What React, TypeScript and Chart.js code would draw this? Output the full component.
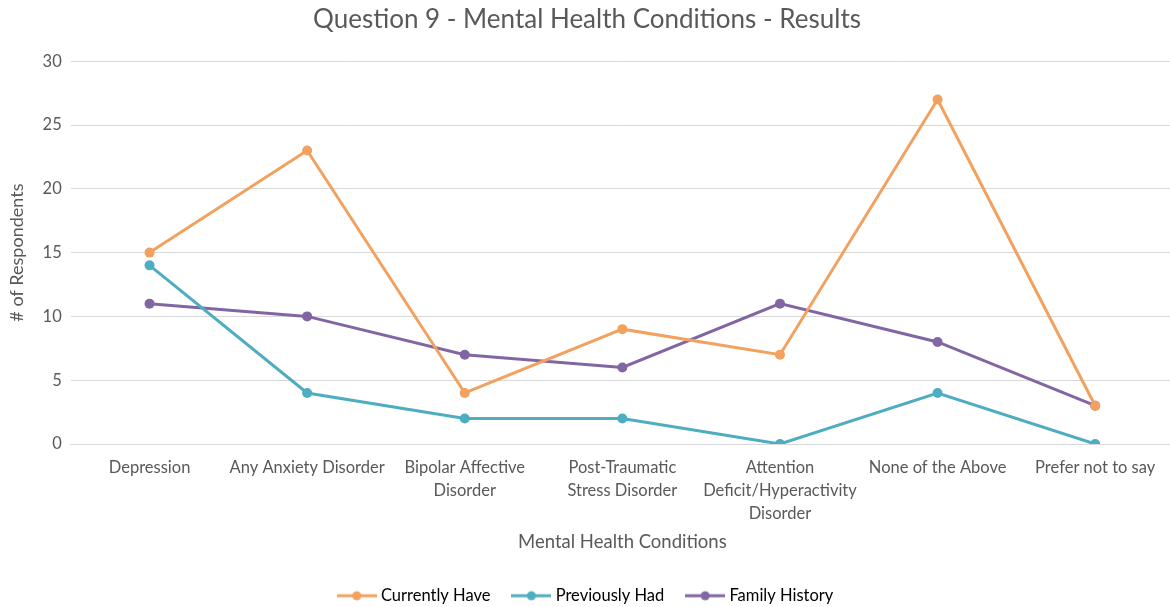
import React, { useEffect, useRef } from "react";
import { Chart, registerables } from "chart.js";

Chart.register(...registerables);

const categories: (string | string[])[] = [
  "Depression",
  "Any Anxiety Disorder",
  ["Bipolar Affective", "Disorder"],
  ["Post-Traumatic", "Stress Disorder"],
  ["Attention", "Deficit/Hyperactivity", "Disorder"],
  "None of the Above",
  "Prefer not to say",
];

const currentlyHave = [15, 23, 4, 9, 7, 27, 3];
const previouslyHad = [14, 4, 2, 2, 0, 4, 0];
const familyHistory = [11, 10, 7, 6, 11, 8, 3];

const seriesNames = ["Currently Have", "Previously Had", "Family History"];
const seriesColors = ["#F2A15E", "#4FADC2", "#8266A3"];

const FONT = "Lato, 'Open Sans', sans-serif";
const GREY = "#595959";

function makeLegendIcon(color: string): HTMLCanvasElement {
  const c = document.createElement("canvas");
  c.width = 40;
  c.height = 12;
  const ctx = c.getContext("2d")!;
  ctx.strokeStyle = color;
  ctx.lineWidth = 3;
  ctx.beginPath();
  ctx.moveTo(0, 6);
  ctx.lineTo(40, 6);
  ctx.stroke();
  ctx.fillStyle = color;
  ctx.beginPath();
  ctx.arc(20, 6, 4.5, 0, Math.PI * 2);
  ctx.fill();
  return c;
}

export default function App() {
  const ref = useRef<HTMLCanvasElement>(null);

  useEffect(() => {
    document.body.style.margin = "0";
    const icons = seriesColors.map(makeLegendIcon);
    const data = [currentlyHave, previouslyHad, familyHistory];
    const chart = new Chart(ref.current!, {
      type: "line",
      data: {
        labels: categories,
        datasets: seriesNames.map((name, i) => ({
          label: name,
          data: data[i],
          borderColor: seriesColors[i],
          backgroundColor: seriesColors[i],
          borderWidth: 3,
          pointRadius: 5,
          pointHoverRadius: 5,
          pointBorderWidth: 0,
          pointStyle: "circle",
          tension: 0,
        })),
      },
      options: {
        animation: false,
        responsive: false,
        maintainAspectRatio: false,
        layout: { padding: { left: -5, right: 0, top: 2, bottom: -7 } },
        plugins: {
          title: {
            display: true,
            text: "Question 9 - Mental Health Conditions - Results",
            color: GREY,
            font: { family: FONT, size: 26, weight: "normal" },
            padding: { top: 2, bottom: 26 },
          },
          legend: {
            position: "bottom",
            labels: {
              color: GREY,
              font: { family: FONT, size: 16.5 },
              usePointStyle: true,
              pointStyleWidth: 32,
              boxHeight: 12,
              padding: 25,
              generateLabels: () =>
                seriesNames.map((name, i) => ({
                  text: name,
                  pointStyle: icons[i],
                  fillStyle: seriesColors[i],
                  strokeStyle: seriesColors[i],
                  lineWidth: 0,
                  datasetIndex: i,
                  hidden: false,
                })),
            },
          },
          tooltip: { enabled: false },
        },
        scales: {
          x: {
            offset: true,
            grid: { display: false, drawTicks: false },
            border: { display: true, color: "#D9D9D9" },
            ticks: {
              color: GREY,
              font: { family: FONT, size: 16.5, lineHeight: 1.4 },
              maxRotation: 0,
              minRotation: 0,
              autoSkip: false,
              padding: 12,
            },
            title: {
              display: true,
              text: "Mental Health Conditions",
              color: GREY,
              font: { family: FONT, size: 18.5 },
              padding: { top: -6, bottom: 9 },
            },
          },
          y: {
            min: 0,
            max: 30,
            ticks: {
              stepSize: 5,
              color: GREY,
              font: { family: FONT, size: 16.5 },
              padding: 9,
            },
            grid: { color: "#D9D9D9", drawTicks: false },
            border: { display: false },
            title: {
              display: true,
              text: "# of Respondents",
              color: GREY,
              font: { family: FONT, size: 18 },
              padding: { top: 11, bottom: 6 },
            },
          },
        },
      },
    });
    return () => chart.destroy();
  }, []);

  return (
    <div style={{ position: "absolute", left: 0, top: 0, width: 1170, height: 607, overflow: "hidden", background: "#fff" }}>
      <canvas ref={ref} width={1179} height={607} style={{ width: 1179, height: 607 }} />
    </div>
  );
}
